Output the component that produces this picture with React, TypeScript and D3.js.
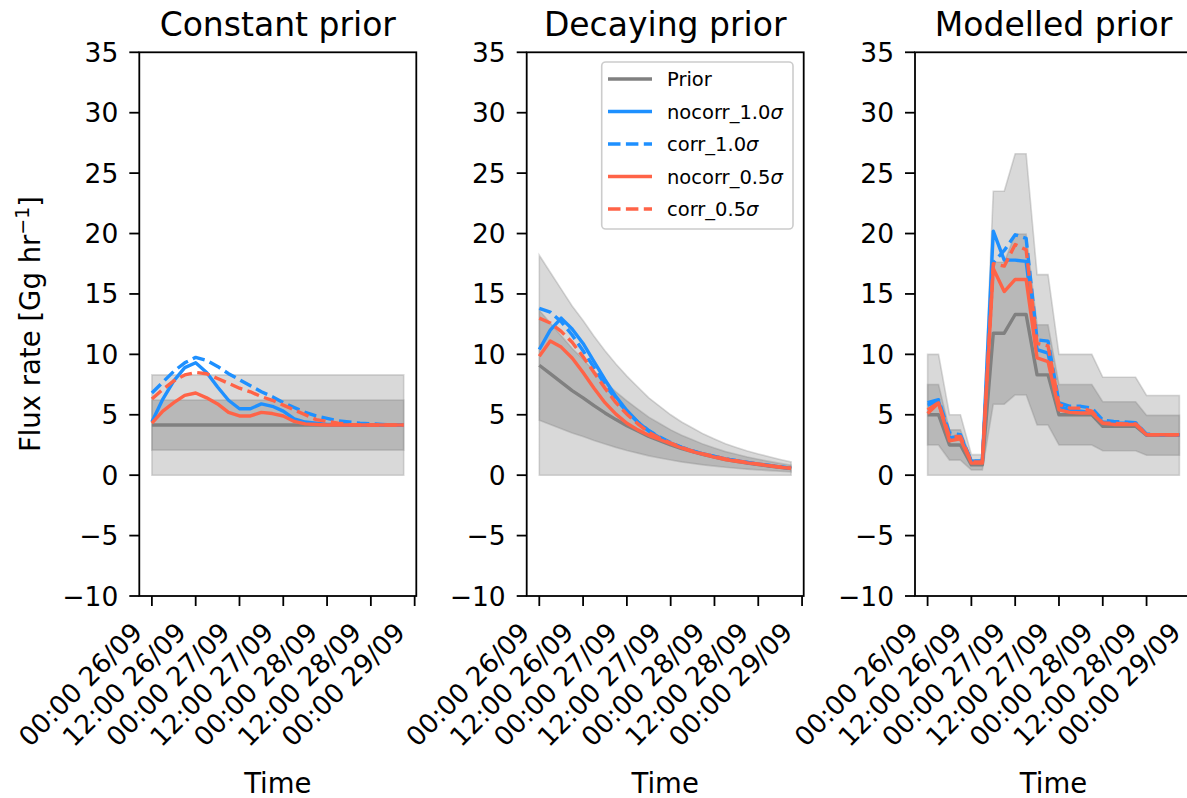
import React from "react";
import * as d3 from "d3";

// hours since 00:00 26/09 (3-hourly)
const HOURS = [0, 3, 6, 9, 12, 15, 18, 21, 24, 27, 30, 33, 36, 39, 42, 45, 48, 51, 54, 57, 60, 63, 66, 69];
const TICK_HOURS = [0, 12, 24, 36, 48, 60, 72];
const TICK_LABELS = ["00:00 26/09", "12:00 26/09", "00:00 27/09", "12:00 27/09", "00:00 28/09", "12:00 28/09", "00:00 29/09"];
const Y_TICKS = [-10, -5, 0, 5, 10, 15, 20, 25, 30, 35];

// band half-widths, as fraction of the prior
const SIGMA_INNER = 0.5;
const SIGMA_OUTER = 1.0;

// Constant prior
const constPrior = [4.15, 4.15, 4.15, 4.15, 4.15, 4.15, 4.15, 4.15, 4.15, 4.15, 4.15, 4.15, 4.15, 4.15, 4.15, 4.15, 4.15, 4.15, 4.15, 4.15, 4.15, 4.15, 4.15, 4.15];
const constNocorr10 = [4.4, 6.3, 7.8, 8.9, 9.3, 8.5, 7.3, 6.2, 5.5, 5.5, 5.9, 5.7, 5.3, 4.65, 4.4, 4.3, 4.2, 4.2, 4.15, 4.15, 4.15, 4.15, 4.15, 4.15];
const constCorr10 = [6.8, 7.7, 8.6, 9.3, 9.75, 9.5, 9.0, 8.4, 7.9, 7.4, 6.9, 6.5, 6.0, 5.6, 5.2, 4.9, 4.7, 4.5, 4.4, 4.3, 4.25, 4.2, 4.15, 4.15];
const constNocorr05 = [4.3, 5.3, 6.0, 6.6, 6.8, 6.4, 5.9, 5.2, 4.9, 4.9, 5.2, 5.1, 4.9, 4.45, 4.25, 4.2, 4.15, 4.15, 4.15, 4.15, 4.15, 4.15, 4.15, 4.15];
const constCorr05 = [6.3, 7.1, 7.8, 8.3, 8.5, 8.4, 8.0, 7.6, 7.2, 6.9, 6.5, 6.2, 5.8, 5.4, 5.0, 4.6, 4.45, 4.3, 4.2, 4.15, 4.15, 4.15, 4.15, 4.15];

// Decaying prior
const decayPrior = [9.1, 8.4, 7.7, 7.0, 6.4, 5.75, 5.15, 4.6, 4.1, 3.65, 3.2, 2.85, 2.5, 2.2, 1.95, 1.7, 1.5, 1.3, 1.15, 1.0, 0.88, 0.76, 0.65, 0.55];
const decayNocorr10 = [10.4, 12.0, 13.0, 12.1, 10.9, 9.4, 7.9, 6.5, 5.35, 4.4, 3.65, 3.1, 2.65, 2.3, 2.0, 1.75, 1.55, 1.35, 1.2, 1.05, 0.92, 0.8, 0.68, 0.58];
const decayCorr10 = [13.8, 13.5, 12.7, 11.6, 10.3, 8.9, 7.5, 6.3, 5.25, 4.4, 3.7, 3.15, 2.7, 2.3, 2.0, 1.75, 1.55, 1.35, 1.2, 1.05, 0.92, 0.8, 0.68, 0.58];
const decayNocorr05 = [9.85, 11.1, 10.6, 9.7, 8.5, 7.2, 6.0, 5.05, 4.3, 3.75, 3.3, 2.95, 2.6, 2.25, 1.95, 1.72, 1.5, 1.3, 1.15, 1.02, 0.9, 0.78, 0.66, 0.56];
const decayCorr05 = [13.0, 12.6, 11.9, 11.0, 9.8, 8.5, 7.2, 6.0, 5.05, 4.25, 3.55, 3.05, 2.65, 2.3, 2.0, 1.75, 1.55, 1.35, 1.2, 1.05, 0.92, 0.8, 0.68, 0.58];

// Modelled prior
const modelPrior = [5.0, 5.0, 2.5, 2.5, 0.85, 0.85, 11.75, 11.75, 13.3, 13.3, 8.3, 8.3, 5.0, 5.0, 5.0, 5.0, 4.05, 4.05, 4.05, 4.05, 3.3, 3.3, 3.3, 3.3];
const modelNocorr10 = [5.8, 6.1, 3.1, 3.2, 1.15, 1.15, 20.2, 17.8, 17.8, 17.7, 10.4, 10.1, 5.7, 5.4, 5.3, 5.2, 4.4, 4.3, 4.3, 4.3, 3.35, 3.35, 3.35, 3.35];
const modelCorr10 = [6.0, 6.25, 3.5, 3.35, 1.15, 1.15, 17.6, 18.6, 19.9, 19.6, 11.2, 11.1, 6.0, 5.7, 5.7, 5.55, 4.55, 4.45, 4.4, 4.35, 3.4, 3.35, 3.35, 3.35];
const modelNocorr05 = [5.1, 5.98, 2.85, 3.0, 1.0, 1.0, 17.1, 15.2, 16.2, 16.2, 9.7, 9.4, 5.4, 5.2, 5.15, 5.15, 4.3, 4.2, 4.2, 4.2, 3.35, 3.35, 3.35, 3.35];
const modelCorr05 = [5.4, 6.0, 3.2, 3.2, 1.1, 1.1, 17.5, 17.3, 19.1, 18.65, 10.9, 10.7, 5.85, 5.55, 5.55, 5.3, 4.3, 4.3, 4.25, 4.25, 3.35, 3.35, 3.35, 3.35];

const BLUE = "#1e90ff";
const RED = "#ff6347";
const GREY = "#808080";
const FONT = "DejaVu Sans";

const panels = [
  { title: "Constant prior", left: 139.3, prior: constPrior, series: [constNocorr10, constCorr10, constNocorr05, constCorr05] },
  { title: "Decaying prior", left: 526.7, prior: decayPrior, series: [decayNocorr10, decayCorr10, decayNocorr05, decayCorr05] },
  { title: "Modelled prior", left: 915, prior: modelPrior, series: [modelNocorr10, modelCorr10, modelNocorr05, modelCorr05] },
];

const seriesStyle = [
  { label: "nocorr_1.0", color: BLUE, dash: null },
  { label: "corr_1.0", color: BLUE, dash: "12.5 5.4" },
  { label: "nocorr_0.5", color: RED, dash: null },
  { label: "corr_0.5", color: RED, dash: "12.5 5.4" },
];

const W = 277;
const TOP = 52.3;
const BOTTOM = 596;
const LW = 3.4;

function fmt(v: number) {
  return v < 0 ? "\u2212" + Math.abs(v) : String(v);
}

function Panel({ p, first, legend }: any) {
  const pad = 0.05 * (HOURS[HOURS.length - 1] - HOURS[0]);
  const x = d3.scaleLinear().domain([HOURS[0] - pad, HOURS[HOURS.length - 1] + pad]).range([p.left, p.left + W]);
  const y = d3.scaleLinear().domain([-10, 35]).range([BOTTOM, TOP]);

  const band = (k: number) =>
    d3.area<number>()
      .x((_, i) => x(HOURS[i]))
      .y0(d => y(d * (1 - k)))
      .y1(d => y(d * (1 + k)))(p.prior) || "";
  const line = (arr: number[]) =>
    d3.line<number>().x((_, i) => x(HOURS[i])).y(d => y(d))(arr) || "";

  const cx = p.left + W / 2;

  return (
    <g>
      <path d={band(SIGMA_OUTER)} fill={GREY} fillOpacity={0.3} stroke={GREY} strokeOpacity={0.3} strokeWidth={1.6} />
      <path d={band(SIGMA_INNER)} fill={GREY} fillOpacity={0.37} stroke={GREY} strokeOpacity={0.3} strokeWidth={1.6} />
      <path d={line(p.prior)} fill="none" stroke={GREY} strokeWidth={LW} strokeLinejoin="round" />
      {p.series.map((s: number[], i: number) => (
        <path key={i} d={line(s)} fill="none" stroke={seriesStyle[i].color} strokeWidth={LW}
          strokeDasharray={seriesStyle[i].dash || undefined} strokeLinejoin="round" />
      ))}
      <rect x={p.left} y={TOP} width={W} height={BOTTOM - TOP} fill="none" stroke="#000" strokeWidth={1.8} />
      {Y_TICKS.map(t => (
        <g key={t}>
          <line x1={p.left - 10} x2={p.left} y1={y(t)} y2={y(t)} stroke="#000" strokeWidth={1.8} />
          <text x={p.left - 21} y={y(t)} dy="0.36em" textAnchor="end" fontSize={26.5}>{fmt(t)}</text>
        </g>
      ))}
      {TICK_HOURS.map((t, i) => (
        <g key={t}>
          <line x1={x(t)} x2={x(t)} y1={BOTTOM} y2={BOTTOM + 10} stroke="#000" strokeWidth={1.8} />
          <text transform={`translate(${x(t) - 8},${634}) rotate(-45)`} textAnchor="end" fontSize={26.5}>{TICK_LABELS[i]}</text>
        </g>
      ))}
      <text x={cx} y={35.5} textAnchor="middle" fontSize={33}>{p.title}</text>
      <text x={cx} y={793} textAnchor="middle" fontSize={27.5}>Time</text>
      {first && (
        <text transform={`translate(${40},${324}) rotate(-90)`} textAnchor="middle" fontSize={27.5}>
          Flux rate [Gg hr<tspan dy="-11" fontSize={19}>{"\u22121"}</tspan><tspan dy="11">]</tspan>
        </text>
      )}
      {legend && <Legend />}
    </g>
  );
}

function Legend() {
  const x0 = 601.7, y0 = 62, w = 191.3, h = 167;
  const rows = [{ label: "Prior", color: GREY, dash: null, sigma: false }, ...seriesStyle.map(s => ({ ...s, sigma: true }))];
  return (
    <g>
      <rect x={x0} y={y0} width={w} height={h} rx={4} fill="#fff" fillOpacity={0.8} stroke="#cccccc" strokeWidth={1.6} />
      {rows.map((r, i) => {
        const yy = 79 + i * 32.5;
        return (
          <g key={r.label}>
            <line x1={608} x2={652} y1={yy} y2={yy} stroke={r.color} strokeWidth={LW} strokeDasharray={r.dash || undefined} />
            <text x={667} y={yy} dy="0.36em" fontSize={19.5}>
              {r.label}{r.sigma && <tspan fontStyle="italic">σ</tspan>}
            </text>
          </g>
        );
      })}
    </g>
  );
}

export default function App() {
  return (
    <div style={{ position: "absolute", left: 0, top: 0 }}>
      <svg width={1187} height={798} style={{ display: "block", fontFamily: FONT, background: "#fff" }}>
        {panels.map((p, i) => (
          <Panel key={p.title} p={p} first={i === 0} legend={i === 1} />
        ))}
      </svg>
    </div>
  );
}
